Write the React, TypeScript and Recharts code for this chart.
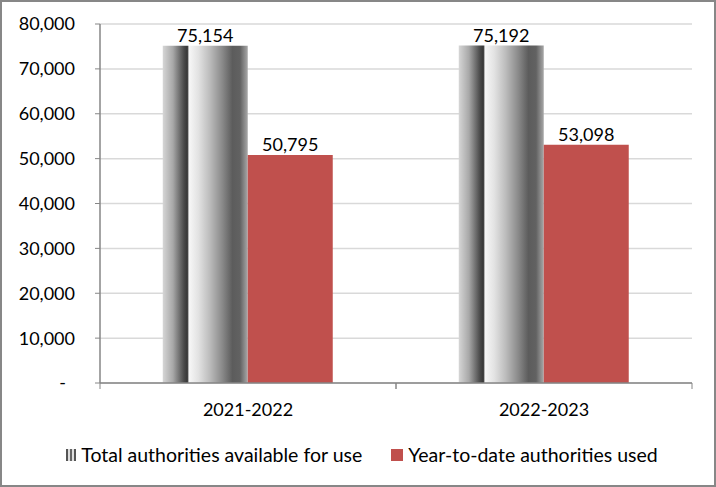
import React from 'react';
import {
  BarChart,
  Bar,
  XAxis,
  YAxis,
  CartesianGrid,
  LabelList,
  Legend
} from 'recharts';

// data
const years = ['2021-2022', '2022-2023'];
const totalAvailable = [75154, 75192];
const usedToDate = [50795, 53098];
const seriesNames = ['Total authorities available for use', 'Year-to-date authorities used'];
const yTicks = [0, 10000, 20000, 30000, 40000, 50000, 60000, 70000, 80000];

const data = years.map((year, i) => ({
  year,
  total: totalAvailable[i],
  used: usedToDate[i]
}));

const FONT = 'Lato, "Open Sans", sans-serif';
const AXIS_COLOR = '#868686';
const RED = '#C0504D';
const CHART_W = 712;
const CHART_H = 483;
const MARGIN = { top: 22, right: 22, left: 18, bottom: 50 };
const Y_AXIS_W = 80;
const PLOT_W = CHART_W - MARGIN.left - MARGIN.right - Y_AXIS_W;
const BAND = PLOT_W / years.length;
const X_TICK_SIZE = 6;
const X_TICK_MARGIN = 14;

const fmt = (v: number) => (v === 0 ? '-' : v.toLocaleString('en-US'));

function XTick(props: any) {
  const { x, y, payload } = props;
  const axisY = y - X_TICK_SIZE - X_TICK_MARGIN;
  return (
    <g>
      <line x1={x - BAND / 2} x2={x - BAND / 2} y1={axisY} y2={axisY + X_TICK_SIZE} stroke={AXIS_COLOR} />
      <line x1={x + BAND / 2} x2={x + BAND / 2} y1={axisY} y2={axisY + X_TICK_SIZE} stroke={AXIS_COLOR} />
      <text x={x} y={y} dy="0.71em" textAnchor="middle" fill="#000" fontFamily={FONT} fontSize={18}>
        {payload.value}
      </text>
    </g>
  );
}

function YTick(props: any) {
  const { x, y, payload } = props;
  const shift = payload.value === 0 ? 9 : 0;
  return (
    <text x={x - shift} y={y} dy="0.355em" textAnchor="end" fill="#000" fontFamily={FONT} fontSize={18}>
      {fmt(payload.value)}
    </text>
  );
}

function LegendContent() {
  return (
    <div
      style={{
        display: 'flex',
        justifyContent: 'center',
        alignItems: 'center',
        fontFamily: FONT,
        fontSize: 19.5,
        color: '#000',
        lineHeight: '22px',
        paddingLeft: 12
      }}
    >
      <span style={{ display: 'flex', alignItems: 'center', marginRight: 29 }}>
        <svg width={10} height={12} style={{ marginRight: 5 }}>
          <rect x={0} y={0} width={2} height={12} fill="#555" />
          <rect x={2} y={0} width={2} height={12} fill="#ddd" />
          <rect x={4} y={0} width={2} height={12} fill="#666" />
          <rect x={6} y={0} width={2} height={12} fill="#e0e0e0" />
          <rect x={8} y={0} width={2} height={12} fill="#555" />
        </svg>
        {seriesNames[0]}
      </span>
      <span style={{ display: 'flex', alignItems: 'center' }}>
        <svg width={12} height={12} style={{ marginRight: 5 }}>
          <rect x={0} y={0} width={12} height={12} fill={RED} />
        </svg>
        {seriesNames[1]}
      </span>
    </div>
  );
}

export default function App() {
  return (
    <div
      style={{
        position: 'absolute',
        left: 0,
        top: 0,
        width: 716,
        height: 487,
        boxSizing: 'border-box',
        border: '2px solid #878787',
        background: '#fff'
      }}
    >
      <BarChart
        width={CHART_W}
        height={CHART_H}
        data={data}
        margin={MARGIN}
        barGap={0}
        barCategoryGap="21.2%"
      >
        <defs>
          <linearGradient id="metal" x1="0" y1="0" x2="1" y2="0">
            <stop offset="0%" stopColor="#d6d6d6" />
            <stop offset="12%" stopColor="#a8a8a8" />
            <stop offset="25%" stopColor="#4a4a4a" />
            <stop offset="29%" stopColor="#363636" />
            <stop offset="31%" stopColor="#f7f7f7" />
            <stop offset="42%" stopColor="#e2e2e2" />
            <stop offset="55%" stopColor="#bdbdbd" />
            <stop offset="70%" stopColor="#8a8a8a" />
            <stop offset="82%" stopColor="#5c5c5c" />
            <stop offset="91%" stopColor="#626262" />
            <stop offset="100%" stopColor="#a8a8a8" />
          </linearGradient>
        </defs>
        <CartesianGrid vertical={false} stroke="#d9d9d9" strokeWidth={1.5} />
        <XAxis
          dataKey="year"
          height={30}
          axisLine={{ stroke: AXIS_COLOR, strokeWidth: 1.5 }}
          tickLine={false}
          tickSize={X_TICK_SIZE}
          tickMargin={X_TICK_MARGIN}
          tick={<XTick />}
          interval={0}
        />
        <YAxis
          width={Y_AXIS_W}
          domain={[0, 80000]}
          ticks={yTicks}
          interval={0}
          axisLine={{ stroke: AXIS_COLOR, strokeWidth: 1.5 }}
          tickLine={{ stroke: AXIS_COLOR }}
          tickSize={5}
          tickMargin={20}
          tick={<YTick />}
        />
        <Legend
          verticalAlign="bottom"
          content={<LegendContent />}
          wrapperStyle={{ bottom: 19 }}
        />
        <Bar dataKey="total" name={seriesNames[0]} fill="url(#metal)" isAnimationActive={false}>
          <LabelList
            dataKey="total"
            position="top"
            offset={4}
            formatter={(v: any) => fmt(Number(v))}
            style={{ fontFamily: FONT, fontSize: 18, fill: '#000' }}
          />
        </Bar>
        <Bar dataKey="used" name={seriesNames[1]} fill={RED} isAnimationActive={false}>
          <LabelList
            dataKey="used"
            position="top"
            offset={4}
            formatter={(v: any) => fmt(Number(v))}
            style={{ fontFamily: FONT, fontSize: 18, fill: '#000' }}
          />
        </Bar>
      </BarChart>
    </div>
  );
}
